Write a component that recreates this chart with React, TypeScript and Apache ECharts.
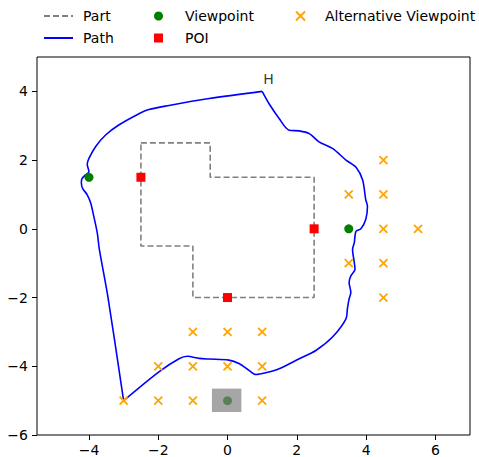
import React, { useEffect, useRef } from 'react';
import * as echarts from 'echarts';

const xTicks = [-4, -2, 0, 2, 4, 6];
const yTicks = [-6, -4, -2, 0, 2, 4];

const partOutline = [
  [-2.5, 2.5], [-0.5, 2.5], [-0.5, 1.5], [2.5, 1.5], [2.5, -2],
  [-1, -2], [-1, -0.5], [-2.5, -0.5], [-2.5, 2.5],
];

// Path from H westwards down to the sharp corner at (-3, -5)
const pathWest = [
  [1.0, 4.0], [-0.53, 3.79], [-1.69, 3.59], [-2.27, 3.47], [-2.65, 3.3],
  [-3.14, 3.02], [-3.52, 2.73], [-3.81, 2.39], [-4.0, 2.05], [-4.05, 1.88],
  [-4.0, 1.66], [-4.1, 1.57], [-4.2, 1.46], [-4.22, 1.34], [-4.18, 1.17],
  [-4.05, 0.99], [-3.95, 0.75], [-3.86, 0.36], [-3.76, -0.12], [-3.7, -0.6],
  [-3.45, -2.0], [-3.0, -5.0],
];

// Path from (-3, -5) eastwards and back up to H
const pathEast = [
  [-3.0, -5.0], [-1.98, -4.16], [-1.4, -3.78], [-1.16, -3.71], [-0.82, -3.77],
  [-0.53, -3.79], [0.04, -3.82], [0.33, -3.92], [0.62, -4.12], [0.82, -4.24],
  [1.1, -4.19], [1.49, -4.07], [2.07, -3.78], [2.55, -3.54], [3.03, -3.15],
  [3.42, -2.62], [3.46, -2.33], [3.51, -2.04], [3.56, -1.85], [3.51, -1.56],
  [3.56, -1.37], [3.68, -1.18], [3.66, -0.98], [3.61, -0.6], [3.66, -0.4],
  [3.71, -0.07], [3.85, 0.0], [3.99, 0.27], [4.04, 0.65], [3.99, 0.85],
  [3.9, 1.42], [3.71, 1.79], [3.42, 2.0], [3.03, 2.34], [2.64, 2.53],
  [2.36, 2.77], [2.07, 2.85], [1.78, 2.87], [1.49, 3.21], [1.2, 3.64], [1.0, 4.0],
];

const viewpoints = [[-4, 1.5], [3.5, 0], [0, -5]];
const pois = [[-2.5, 1.5], [2.5, 0], [0, -2]];
const altViewpoints = [
  [4.5, 2], [3.5, 1], [4.5, 1], [4.5, 0], [5.5, 0], [3.5, -1], [4.5, -1], [4.5, -2],
  [-1, -3], [0, -3], [1, -3], [-2, -4], [-1, -4], [0, -4], [1, -4],
  [-3, -5], [-2, -5], [-1, -5], [1, -5],
];
// [x0, y0, x1, y1]
const highlightBox = [[-0.45, -5.33, 0.4, -4.65]];
const homeLabel = [[1.0, 4.2]];
const homeText = 'H';

const FONT = 'DejaVu Sans';
const minus = (v: number) => String(v).replace('-', '\u2212');

export default function App() {
  const ref = useRef<HTMLDivElement>(null);
  useEffect(() => {
    if (!ref.current) return;
    const chart = echarts.init(ref.current, null, { renderer: 'svg' });
    const legendCommon = {
      orient: 'vertical',
      top: 8,
      itemGap: 6,
      itemHeight: 9,
      padding: 0,
      selectedMode: false,
      textStyle: { fontFamily: FONT, fontSize: 14, color: '#000', lineHeight: 16 },
    };
    chart.setOption({
      animation: false,
      backgroundColor: '#fff',
      grid: {
        left: 37, right: 9, top: 57, bottom: 20,
        show: true, borderColor: '#000', borderWidth: 1, backgroundColor: 'transparent',
      },
      legend: [
        { ...legendCommon, data: ['Part', 'Path'], left: 43, itemWidth: 29,
          itemStyle: { color: 'transparent', borderWidth: 0, opacity: 0 },
          textStyle: { ...legendCommon.textStyle, padding: [0, 0, 0, 5] } },
        { ...legendCommon, data: ['Viewpoint', 'POI'], left: 154, itemWidth: 9,
          textStyle: { ...legendCommon.textStyle, padding: [0, 0, 0, 17] } },
        { ...legendCommon, data: ['Alternative Viewpoint'], left: 295, itemWidth: 9,
          textStyle: { ...legendCommon.textStyle, padding: [0, 0, 0, 15] } },
      ],
      xAxis: {
        type: 'value', min: -5.5, max: 7,
        axisLine: { show: false, onZero: false },
        splitLine: { show: false },
        axisTick: { show: true, length: 5, lineStyle: { color: '#000' }, customValues: xTicks },
        axisLabel: { customValues: xTicks, formatter: minus, fontFamily: FONT, fontSize: 14, color: '#000', margin: 8 },
      },
      yAxis: {
        type: 'value', min: -6, max: 5,
        axisLine: { show: false, onZero: false },
        splitLine: { show: false },
        axisTick: { show: true, length: 5, lineStyle: { color: '#000' }, customValues: yTicks },
        axisLabel: { customValues: yTicks, formatter: minus, fontFamily: FONT, fontSize: 14, color: '#000', margin: 9 },
      },
      series: [
        {
          name: 'Part', type: 'line', data: partOutline, symbol: 'none',
          lineStyle: { color: '#808080', width: 1.6, type: [6, 3] }, itemStyle: { color: '#808080' }, z: 2,
        },
        {
          name: 'Path', type: 'line', data: pathWest, symbol: 'none', smooth: 0.3,
          lineStyle: { color: '#0000ff', width: 1.6 }, itemStyle: { color: '#0000ff' }, z: 3,
        },
        {
          name: 'Path', type: 'line', data: pathEast, symbol: 'none', smooth: 0.3,
          lineStyle: { color: '#0000ff', width: 1.6 }, itemStyle: { color: '#0000ff' }, z: 3,
        },
        {
          name: 'Viewpoint', type: 'scatter', data: viewpoints, symbol: 'circle', symbolSize: 9,
          itemStyle: { color: '#008000', opacity: 1 }, z: 4,
        },
        {
          name: 'POI', type: 'scatter', data: pois, symbol: 'path://M0,0H10V10H0Z', symbolSize: 9,
          symbolKeepAspect: true,
          itemStyle: { color: '#ff0000', opacity: 1 }, z: 4,
        },
        {
          name: 'Alternative Viewpoint', type: 'scatter', data: altViewpoints,
          symbol: 'path://M0,0L10,10M10,0L0,10', symbolSize: 8,
          itemStyle: { color: '#ffa500', borderColor: '#ffa500', borderWidth: 1.8, opacity: 1 }, z: 4,
        },
        {
          name: 'box', type: 'custom', data: highlightBox, z: 5,
          encode: { x: [0, 2], y: [1, 3] },
          renderItem: (params: any, api: any) => {
            const p0 = api.coord([api.value(0), api.value(3)]);
            const p1 = api.coord([api.value(2), api.value(1)]);
            return {
              type: 'rect',
              shape: { x: p0[0], y: p0[1], width: p1[0] - p0[0], height: p1[1] - p0[1] },
              style: { fill: 'rgba(128,128,128,0.7)' },
            };
          },
        },
        {
          name: 'label', type: 'scatter', data: homeLabel, symbolSize: 0, silent: true, z: 6,
          label: {
            show: true, formatter: homeText, position: [0, 0], align: 'left', verticalAlign: 'bottom',
            fontFamily: FONT, fontSize: 14, color: '#000', offset: [1, 2],
          },
        },
      ],
    });
    return () => chart.dispose();
  }, []);
  return <div ref={ref} style={{ position: 'fixed', left: 0, top: 0, width: 479, height: 457 }} />;
}
